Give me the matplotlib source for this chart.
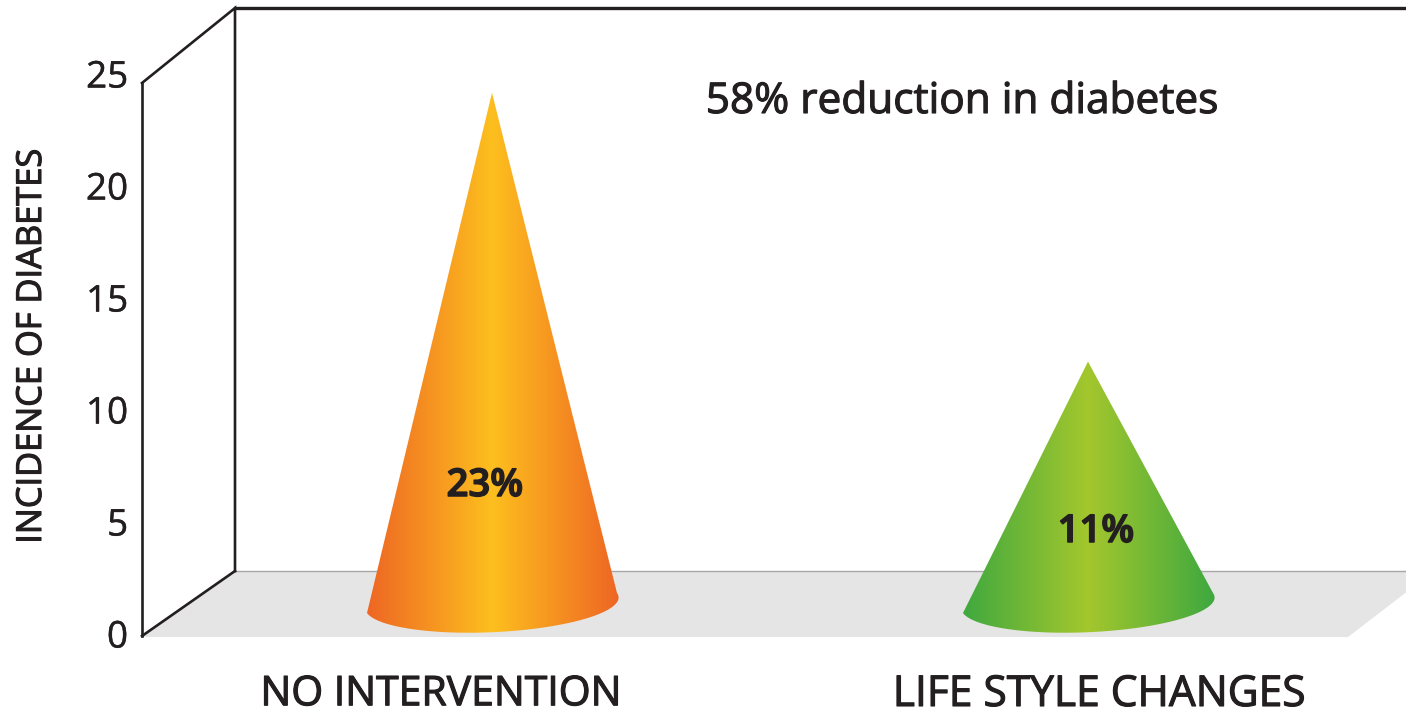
import numpy as np
import matplotlib
matplotlib.use("Agg")
import matplotlib.pyplot as plt
import matplotlib.patheffects as pe
from matplotlib.colors import LinearSegmentedColormap
from matplotlib.patches import Polygon

categories = ["NO INTERVENTION", "LIFE STYLE CHANGES"]
incidence = [23, 11]
value_labels = ["23%", "11%"]
y_ticks = [0, 5, 10, 15, 20, 25]
headline = "58% reduction in diabetes"
y_title = "INCIDENCE OF DIABETES"
edge_colors = ["#EE6424", "#3DA83F"]
centre_colors = ["#FDBF1E", "#A4C72D"]

W, H = 1406, 715
TEXT = "#231F20"
FONT = "Open Sans"
HEAVY = [pe.withStroke(linewidth=0.8, foreground=TEXT)]

fig = plt.figure(figsize=(W / 100, H / 100), dpi=100, facecolor="white")

# The axes run from the front-left edge of the box to the right of the canvas.
PX_Y = 22.4          # pixels per unit on the y scale
PX_X = 596.0         # pixels between the two cones
Y0_PX, X0_PX = 634.0, 142.0
ax = fig.add_axes([X0_PX / W, 1 - Y0_PX / H, (W - X0_PX) / W, 25 * PX_Y / H])
x_left = (X0_PX - 492) / PX_X
x_right = (W - 492) / PX_X
ax.set_xlim(x_left, x_right)
ax.set_ylim(0, 25)
ax.patch.set_alpha(0)
for spine in ax.spines.values():
    spine.set_visible(False)
ax.set_xticks([])
ax.set_yticks(y_ticks)
ax.tick_params(axis="y", length=0, pad=10, labelsize=26.5, labelcolor=TEXT)
for lab in ax.get_yticklabels():
    lab.set_family(FONT)
    lab.set_path_effects([pe.withStroke(linewidth=0.3, foreground=TEXT)])


def dx(px):
    return px / PX_X


def dy(px):
    return px / PX_Y


# Floor of the pseudo-3D box.
depth_x, depth_y = dx(93), dy(63)
floor_front = dy(-3)
floor_right = x_left + dx(1348 - X0_PX)
floor = Polygon(
    [(x_left, floor_front), (floor_right, floor_front),
     (floor_right + dx(86), depth_y), (x_left + depth_x, depth_y)],
    closed=True, facecolor="#E6E5E5", edgecolor="none", zorder=1, clip_on=False)
ax.add_patch(floor)
ax.plot([x_left + depth_x, x_right], [depth_y, depth_y], color="#A8A6A6", lw=1.0, zorder=1.5)

# Box outline: front edge, back edge and the lines joining them.
top_front, top_back = dy(Y0_PX - 83), dy(Y0_PX - 8)
line_style = dict(color="#231F20", clip_on=False, zorder=2, solid_capstyle="projecting",
                  solid_joinstyle="miter")
ax.plot([x_left, x_left], [dy(-2), top_front], lw=1.9, **line_style)
ax.plot([x_left, x_left + depth_x, x_left + depth_x], [top_front, top_back, depth_y], lw=1.9, **line_style)
ax.plot([x_left, x_left + depth_x], [dy(-2), depth_y], lw=1.9, **line_style)
ax.plot([x_left + depth_x, x_right], [top_back, top_back], lw=2.4, **line_style)

# Cones: a straight-sided body above a tilted elliptical base.
half_width = dx(125)
tilt = dy(10)
base_semi_minor = dy(28)
base_skew = dx(20)
base_centre = dy(31)
apex_lift = dy(26)
for pos, (value, c_edge, c_mid) in enumerate(zip(incidence, edge_colors, centre_colors)):
    t = np.linspace(np.pi, 2 * np.pi, 90)
    arc_x = pos + half_width * np.cos(t) - base_skew * np.sin(t)
    arc_y = base_centre + tilt * np.cos(t) + base_semi_minor * np.sin(t)
    verts = np.column_stack([np.r_[arc_x, pos], np.r_[arc_y, value + apex_lift]])
    cmap = LinearSegmentedColormap.from_list("cone", [c_edge, c_mid, c_edge])
    img = ax.imshow(np.linspace(0, 1, 256).reshape(1, -1), cmap=cmap, aspect="auto",
                    extent=(pos - half_width - dx(3), pos + half_width + dx(3), -1, 25), zorder=3)
    outline = Polygon(verts, closed=True, facecolor="none", edgecolor="none",
                      transform=ax.transData, clip_on=False)
    ax.add_patch(outline)
    img.set_clip_path(outline)
ax.set_xlim(x_left, x_right)
ax.set_ylim(0, 25)

# Value labels on the cones.
label_at = [(485, 486), (1096, 532)]
for text, (px, py) in zip(value_labels, label_at):
    ax.text((px - 492) / PX_X, dy(Y0_PX - py), text, ha="center", va="center", fontsize=27.5,
            family=FONT, weight="semibold", color=TEXT, zorder=4,
            path_effects=[pe.withStroke(linewidth=1.1, foreground=TEXT)])

# Category names below the floor.
name_at = [441, 1099]
name_sizes = [29.5, 30.6]
for text, px, size in zip(categories, name_at, name_sizes):
    ax.text((px - 492) / PX_X, dy(Y0_PX - 695), text, ha="center", va="center", fontsize=size,
            family=FONT, color=TEXT, clip_on=False, path_effects=HEAVY)

ax.text((962 - 492) / PX_X, dy(Y0_PX - 102), headline, ha="center", va="center", fontsize=30.5,
        family=FONT, color=TEXT, path_effects=HEAVY)

fig.text(32 / W, 1 - 346 / H, y_title, rotation=90, ha="center", va="center", fontsize=24.8,
         family=FONT, color=TEXT, path_effects=HEAVY)

fig.savefig("out.png", dpi=100, facecolor="white")
